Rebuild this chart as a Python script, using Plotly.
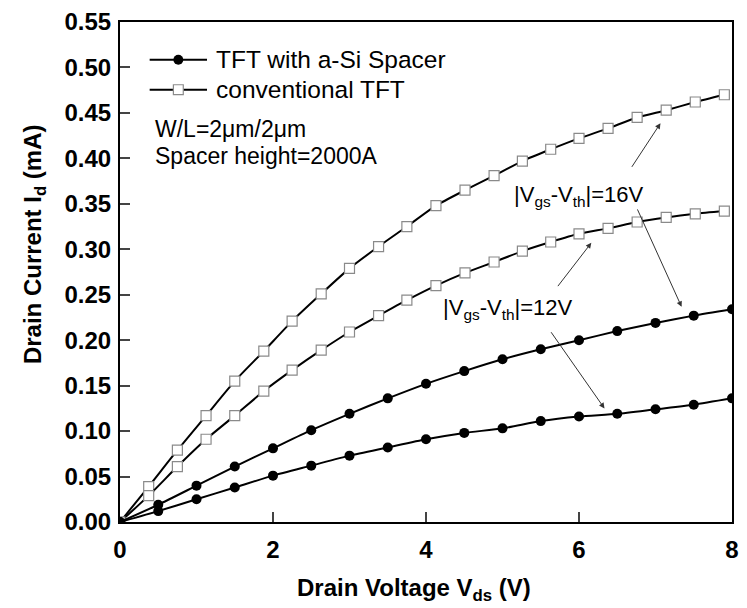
import plotly.graph_objects as go

# ---- data ----
vds_spacer = [0, 0.5, 1.0, 1.5, 2.0, 2.5, 3.0, 3.5, 4.0, 4.5, 5.0, 5.5, 6.0, 6.5, 7.0, 7.5, 8.0]
id_spacer_16 = [0, 0.019, 0.040, 0.061, 0.081, 0.101, 0.119, 0.136, 0.152, 0.166, 0.179, 0.190, 0.200, 0.210, 0.219, 0.227, 0.234]
id_spacer_12 = [0, 0.012, 0.025, 0.038, 0.051, 0.062, 0.073, 0.082, 0.091, 0.098, 0.103, 0.111, 0.116, 0.119, 0.124, 0.129, 0.136]

vds_conv = [0, 0.375, 0.75, 1.125, 1.5, 1.88, 2.25, 2.63, 3.0, 3.38, 3.75, 4.13, 4.51, 4.89, 5.26, 5.63, 6.0, 6.38, 6.76, 7.14, 7.52, 7.9]
id_conv_16 = [0, 0.039, 0.079, 0.117, 0.155, 0.188, 0.221, 0.251, 0.279, 0.303, 0.325, 0.348, 0.365, 0.381, 0.397, 0.410, 0.422, 0.433, 0.445, 0.453, 0.462, 0.470]
id_conv_12 = [0, 0.029, 0.061, 0.091, 0.117, 0.144, 0.167, 0.189, 0.209, 0.227, 0.244, 0.260, 0.274, 0.286, 0.298, 0.308, 0.317, 0.323, 0.330, 0.335, 0.339, 0.342]

legend_names = ["TFT with a-Si Spacer", "conventional TFT"]
info_lines = ["W/L=2\u03bcm/2\u03bcm", "Spacer height=2000A"]
label_16 = "|V<sub>gs</sub>-V<sub>th</sub>|=16V"
label_12 = "|V<sub>gs</sub>-V<sub>th</sub>|=12V"
x_title = "Drain Voltage V<sub>ds</sub> (V)"
y_title = "Drain Current I<sub>d</sub> (mA)"

FONT = "Liberation Sans, Arial, sans-serif"

fig = go.Figure()

line_style = dict(color="black", width=2, shape="spline", smoothing=0.6)
circle_marker = dict(symbol="circle", size=10, color="black", line=dict(color="black", width=0))
square_marker = dict(symbol="square", size=10, color="white", line=dict(color="#8a8a8a", width=1.2))

for y in (id_conv_16, id_conv_12):
    fig.add_trace(go.Scatter(x=vds_conv, y=y, mode="lines+markers", line=line_style,
                             marker=square_marker, showlegend=False))
for y in (id_spacer_16, id_spacer_12):
    fig.add_trace(go.Scatter(x=vds_spacer, y=y, mode="lines+markers", line=line_style,
                             marker=circle_marker, showlegend=False))

# ---- custom legend (paper coordinates) ----
L, R, T, B = 120, 739, 20, 522
W, H = R - L, B - T
def px(xp):
    return (xp - L) / W
def py(yp):
    return (B - yp) / H

shapes = []
annotations = []
rows = [58, 88]
for i, (name, yr) in enumerate(zip(legend_names, rows)):
    shapes.append(dict(type="line", xref="paper", yref="paper", x0=px(150), x1=px(208),
                       y0=py(yr), y1=py(yr), line=dict(color="black", width=2)))
    if i == 0:
        shapes.append(dict(type="circle", xref="paper", yref="paper", x0=px(174), x1=px(184),
                           y0=py(yr + 5), y1=py(yr - 5), fillcolor="black", line=dict(color="black", width=0)))
    else:
        shapes.append(dict(type="rect", xref="paper", yref="paper", x0=px(174), x1=px(184),
                           y0=py(yr + 5), y1=py(yr - 5), fillcolor="white", line=dict(color="#8a8a8a", width=1.2)))
    annotations.append(dict(xref="paper", yref="paper", x=px(215), y=py(yr), text=name,
                            showarrow=False, xanchor="left", yanchor="middle",
                            font=dict(family=FONT, size=24.5, color="black")))

for txt, yr in zip(info_lines, [127, 155]):
    annotations.append(dict(xref="paper", yref="paper", x=px(153), y=py(yr), text=txt,
                            showarrow=False, xanchor="left", yanchor="middle",
                            font=dict(family=FONT, size=23, color="black")))

# labels
annotations.append(dict(x=6.0, y=0.359, xref="x", yref="y", text=label_16, showarrow=False,
                        xanchor="center", yanchor="middle", font=dict(family=FONT, size=22, color="black")))
annotations.append(dict(x=5.07, y=0.234, xref="x", yref="y", text=label_12, showarrow=False,
                        xanchor="center", yanchor="middle", font=dict(family=FONT, size=22, color="black")))

# axis titles
annotations.append(dict(xref="paper", yref="paper", x=px(417), y=py(590), text=x_title,
                        showarrow=False, xanchor="center", yanchor="middle",
                        font=dict(family=FONT, size=24, color="black", weight="bold")))
annotations.append(dict(xref="paper", yref="paper", x=px(33), y=py(243), text=y_title,
                        showarrow=False, xanchor="center", yanchor="middle", textangle=-90,
                        font=dict(family=FONT, size=24, color="black", weight="bold")))

# arrows (tail -> head)
arrows = [
    ((6.678, 0.389), (7.065, 0.4386)),
    ((6.755, 0.3455), (7.341, 0.2367)),
    ((5.709, 0.2578), (6.161, 0.3071)),
    ((5.622, 0.2104), (6.333, 0.1249)),
]
for (tx, ty), (hx, hy) in arrows:
    annotations.append(dict(x=hx, y=hy, ax=tx, ay=ty, xref="x", yref="y", axref="x", ayref="y",
                            text="", showarrow=True, arrowhead=2, arrowsize=1.1, arrowwidth=1,
                            arrowcolor="#333333"))

fig.update_layout(
    width=747, height=608,
    margin=dict(l=L, r=747 - R, t=T, b=608 - B),
    paper_bgcolor="white", plot_bgcolor="white",
    font=dict(family=FONT, color="black"),
    shapes=shapes, annotations=annotations,
    showlegend=False,
)
fig.update_xaxes(range=[0, 8], dtick=2, tick0=0, ticks="inside", ticklen=10, tickwidth=2,
                 showline=True, linewidth=2, linecolor="black", mirror=True,
                 showgrid=False, zeroline=False, ticklabelstandoff=5,
                 tickfont=dict(family=FONT, size=24, weight="bold"))
fig.update_yaxes(range=[0, 0.55], dtick=0.05, tick0=0, tickformat=".2f", ticks="inside", ticklen=10,
                 tickwidth=2, showline=True, linewidth=2, linecolor="black", mirror=True,
                 showgrid=False, zeroline=False, ticklabelstandoff=2,
                 tickfont=dict(family=FONT, size=24, weight="bold"))

fig.write_html("out.html")
